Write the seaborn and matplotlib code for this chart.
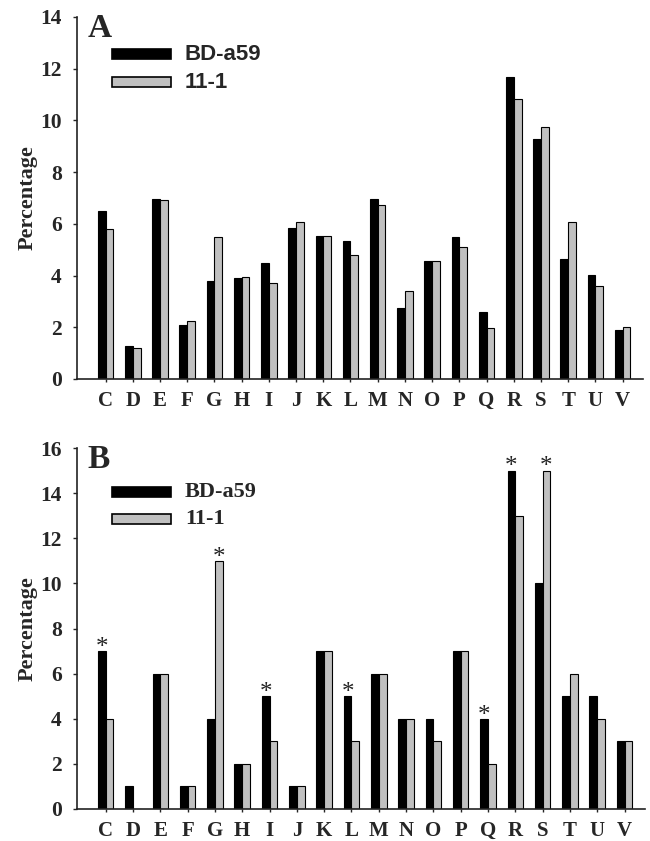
import matplotlib
matplotlib.use("Agg")
import matplotlib.pyplot as plt
import seaborn as sns
import pandas as pd
from matplotlib.patches import Rectangle

categories = list("CDEFGHIJKLMNOPQRSTUV")
series = ["BD-a59", "11-1"]

a_bd = [6.5, 1.29, 6.95, 2.07, 3.79, 3.91, 4.47, 5.85, 5.53, 5.34,
        6.95, 2.76, 4.56, 5.49, 2.6, 11.69, 9.27, 4.66, 4.01, 1.89]
a_11 = [5.79, 1.19, 6.92, 2.24, 5.5, 3.95, 3.72, 6.06, 5.53, 4.79,
        6.71, 3.40, 4.56, 5.10, 1.96, 10.81, 9.74, 6.06, 3.6, 2.02]

b_bd = [7, 1, 6, 1, 4, 2, 5, 1, 7, 5, 6, 4, 4, 7, 4, 15, 10, 5, 5, 3]
b_11 = [4, 0, 6, 1, 11, 2, 3, 1, 7, 3, 6, 4, 3, 7, 2, 13, 15, 6, 4, 3]

# significance stars: (category, series)
b_stars = [("C", "BD-a59"), ("G", "11-1"), ("I", "BD-a59"), ("L", "BD-a59"),
           ("Q", "BD-a59"), ("R", "BD-a59"), ("S", "11-1")]

a_yticks = [0, 2, 4, 6, 8, 10, 12, 14]
b_yticks = [0, 2, 4, 6, 8, 10, 12, 14, 16]

sns.set_style("white")
plt.rcParams["font.family"] = ["Liberation Serif", "DejaVu Serif"]
plt.rcParams["font.weight"] = "bold"

W, H = 650, 841
fig = plt.figure(figsize=(6.5, 8.41), dpi=100)

def fx(px):
    return px / W

def fy(py):
    return 1 - py / H

ax_a = fig.add_axes([fx(77), fy(379), fx(643) - fx(77), fy(17) - fy(379)])
ax_b = fig.add_axes([fx(77), fy(809), fx(645) - fx(77), fy(448) - fy(809)])

BAR_W = 0.57
palette = ["#000000", "#c0c0c0"]

def draw(ax, v1, v2, yticks, letter, legend_y, legend_font):
    df = pd.DataFrame({
        "cat": categories * 2,
        "val": v1 + v2,
        "series": [series[0]] * len(categories) + [series[1]] * len(categories),
    })
    sns.barplot(data=df, x="cat", y="val", hue="series", hue_order=series,
                palette=palette, width=BAR_W, edgecolor="black", linewidth=0.8,
                ax=ax, legend=False, errorbar=None)
    ax.set_xlim(-1.05, 19.75)
    ax.set_ylim(0, yticks[-1])
    ax.set_yticks(yticks)
    ax.set_yticklabels([str(t) for t in yticks])
    ax.set_xlabel("")
    ax.set_ylabel("Percentage", fontsize=16, fontweight="bold", labelpad=2)
    for s in ["top", "right"]:
        ax.spines[s].set_visible(False)
    for s in ["left", "bottom"]:
        ax.spines[s].set_linewidth(1.2)
        ax.spines[s].set_color("#222222")
    ax.tick_params(axis="y", direction="out", length=3, width=1, pad=8,
                   labelsize=15.5, left=True)
    ax.tick_params(axis="x", direction="out", length=2.5, width=1, pad=6,
                   labelsize=15, bottom=True)
    for lab in ax.get_xticklabels() + ax.get_yticklabels():
        lab.set_fontweight("bold")
    ax.text(0.019, 0.945, letter, transform=ax.transAxes, fontsize=24,
            fontweight="bold", va="baseline", ha="left")
    # legend
    for i, (name, col) in enumerate(zip(series, palette)):
        yc = legend_y[i]
        fig.patches.append(Rectangle((fx(112), fy(yc + 5)), fx(171) - fx(112),
                                     fy(yc - 5) - fy(yc + 5),
                                     facecolor=col, edgecolor="black", lw=1.2,
                                     transform=fig.transFigure, figure=fig))
        fig.text(fx(185), fy(yc), name, fontsize=16, fontweight="bold",
                 family=legend_font, va="center", ha="left")
    return ax

draw(ax_a, a_bd, a_11, a_yticks, "A", [54, 82], ["Liberation Sans", "DejaVu Sans"])
draw(ax_b, b_bd, b_11, b_yticks, "B", [492, 519], ["Liberation Serif", "DejaVu Serif"])

off = BAR_W / 4
for cat, ser in b_stars:
    i = categories.index(cat)
    if ser == series[0]:
        x = i - off
        v = b_bd[i]
    else:
        x = i + off
        v = b_11[i]
    ax_b.text(x, v - 0.35, "*", ha="center", va="bottom", fontsize=18,
              fontweight="normal", color="#222222")

fig.savefig("out.png", dpi=100)
